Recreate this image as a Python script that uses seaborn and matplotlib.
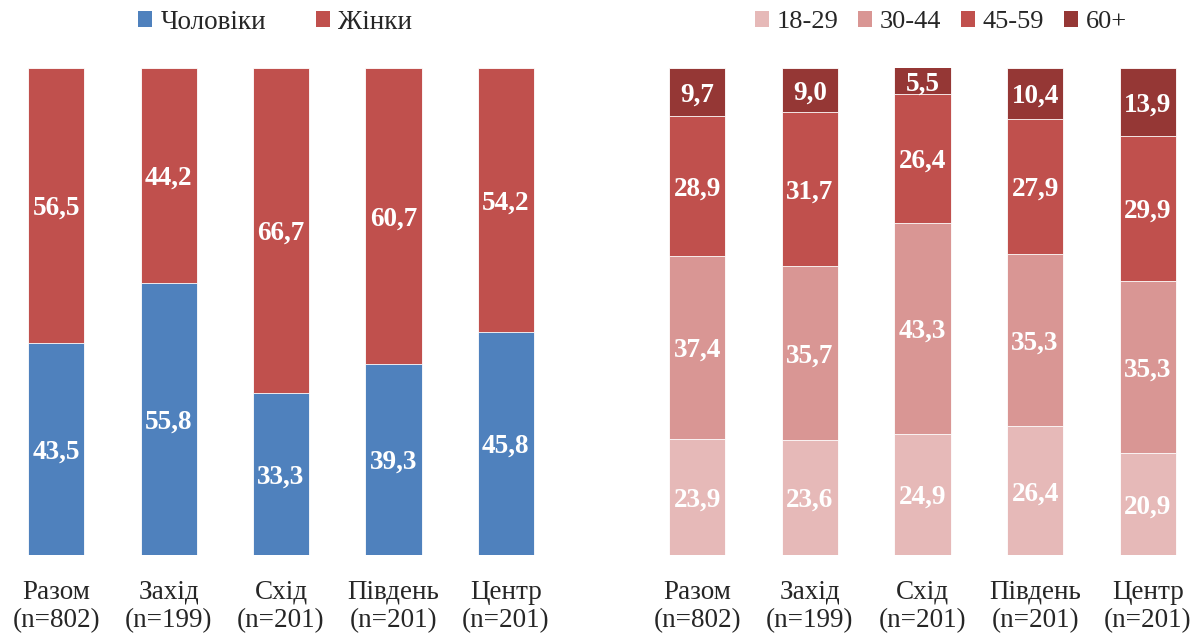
import matplotlib
matplotlib.use("Agg")
import matplotlib.pyplot as plt
from matplotlib.patches import Patch
import numpy as np
import pandas as pd
import seaborn as sns

regions = ["Разом\n(n=802)", "Захід\n(n=199)", "Схід\n(n=201)", "Південь\n(n=201)", "Центр\n(n=201)"]

men = [43.5, 55.8, 33.3, 39.3, 45.8]
women = [56.5, 44.2, 66.7, 60.7, 54.2]

age_18_29 = [23.9, 23.6, 24.9, 26.4, 20.9]
age_30_44 = [37.4, 35.7, 43.3, 35.3, 35.3]
age_45_59 = [28.9, 31.7, 26.4, 27.9, 29.9]
age_60 = [9.7, 9.0, 5.5, 10.4, 13.9]

sns.set_theme(style="white")
plt.rcParams["font.family"] = ["Liberation Serif", "DejaVu Serif"]


def stacked(ax, series, colors):
    # seaborn has no stacking, so draw cumulative totals from the tallest down
    cum = np.cumsum(np.array(series), axis=0)
    for i in range(len(series) - 1, -1, -1):
        df = pd.DataFrame({"region": regions, "value": cum[i]})
        sns.barplot(data=df, x="region", y="value", color=colors[i], width=0.5,
                    saturation=1, edgecolor="white", linewidth=0.6, ax=ax)
    for i, vals in enumerate(series):
        base = cum[i] - np.array(vals)
        for j, v in enumerate(vals):
            ax.text(j, base[j] + v / 2, f"{v:.1f}".replace(".", ","), ha="center",
                    va="center_baseline", color="white", fontsize=19.5, fontweight="bold")
    ax.set_ylim(0, 100)
    ax.set_xlim(-0.5, 4.5)
    ax.set_xlabel("")
    ax.set_ylabel("")
    ax.set_yticks([])
    ax.tick_params(axis="x", length=0, pad=18, labelsize=19.5)
    for lbl in ax.get_xticklabels():
        lbl.set_linespacing(1.15)
    for s in ax.spines.values():
        s.set_visible(False)
    return [Patch(facecolor=c, edgecolor="none") for c in colors]


fig = plt.figure(figsize=(12.04, 6.35), dpi=100)
ax1 = fig.add_axes([0.0, 0.126, 0.4668, 0.767])
ax2 = fig.add_axes([0.5324, 0.126, 0.4676, 0.767])

h1 = stacked(ax1, [men, women], ["#4F81BD", "#C0504D"])
ax1.legend(h1, ["Чоловіки", "Жінки"], loc="center", bbox_to_anchor=(0.49, 1.094),
           ncol=2, frameon=False, fontsize=19.5, handlelength=0.52, handleheight=0.52,
           handletextpad=0.3, columnspacing=1.85)

age_colors = ["#E6B9B8", "#D99694", "#C0504D", "#953735"]
age_names = ["18-29", "30-44", "45-59", "60+"]
h2 = stacked(ax2, [age_18_29, age_30_44, age_45_59, age_60], age_colors)
ax2.legend(h2, age_names, loc="center", bbox_to_anchor=(0.533, 1.094),
           ncol=4, frameon=False, fontsize=19, handlelength=0.52, handleheight=0.52,
           handletextpad=0.3, columnspacing=0.75)

fig.savefig("out.png", dpi=100)
